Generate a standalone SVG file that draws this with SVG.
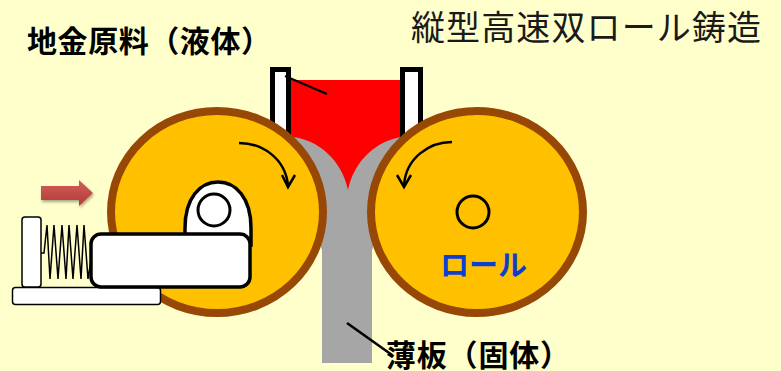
<svg xmlns="http://www.w3.org/2000/svg" width="781" height="371" viewBox="0 0 781 371">
  <defs>
    <style>
      .roll { fill: #FFC000; stroke: #984806; stroke-width: 8; }
      .wall { fill: #FFFFFF; stroke: #000000; stroke-width: 5; }
      .line { fill: none; stroke: #000000; stroke-width: 2.5; }
      .thin { fill: #FFFFFF; stroke: #000000; stroke-width: 1.5; }
      .part { fill: #FFFFFF; stroke: #000000; stroke-width: 3.5; }
      .label { font-family: "Noto Sans CJK JP", "Noto Sans", sans-serif; font-weight: bold; font-size: 30px; fill: #000000; }
      .title { font-family: "Noto Sans CJK JP", "Noto Sans", sans-serif; font-size: 34px; fill: #1A1A1A; }
    </style>
    <linearGradient id="arrowFill" x1="0" y1="0" x2="0" y2="1">
      <stop offset="0" stop-color="#D2605C"/>
      <stop offset="1" stop-color="#B23A36"/>
    </linearGradient>
    <filter id="softShadow" x="-20%" y="-30%" width="140%" height="160%">
      <feGaussianBlur in="SourceAlpha" stdDeviation="1.5"/>
      <feOffset dx="1" dy="2" result="blur"/>
      <feComponentTransfer><feFuncA type="linear" slope="0.35"/></feComponentTransfer>
      <feMerge><feMergeNode/><feMergeNode in="SourceGraphic"/></feMerge>
    </filter>
  </defs>

  <!-- background -->
  <rect x="0" y="0" width="781" height="371" fill="#FFFFCC"/>

  <!-- molten metal pool -->
  <g id="melt">
    <rect x="290" y="80" width="112" height="115" fill="#FF0000"/>
  </g>

  <!-- solidified shell and strip -->
  <g id="strip">
    <path d="M280,140 L293,137 C318,140 342,160 348,190 C354,160 378,140 402,137 L415,145 L380,230 L372,250 L372,363 L322,363 L322,250 L314,230 Z" fill="#A6A6A6"/>
  </g>

  <!-- side dam walls -->
  <g id="wall-left">
    <rect class="wall" x="272.5" y="69.5" width="16" height="110"/>
  </g>
  <g id="wall-right">
    <rect class="wall" x="402.5" y="69.5" width="18" height="110"/>
  </g>

  <!-- rolls -->
  <g id="roll-left">
    <ellipse class="roll" cx="217" cy="212" rx="106" ry="101"/>
    <path class="part" d="M185,245 L185,228 C185,198 200,182 218,182 C236,182 251,198 251,228 L251,245 Z"/>
    <circle cx="214" cy="210" r="16" fill="#FFFFFF" stroke="#000000" stroke-width="3"/>
  </g>
  <g id="roll-right">
    <ellipse class="roll" cx="477" cy="212" rx="106" ry="101"/>
    <circle cx="473" cy="212" r="16" fill="none" stroke="#000000" stroke-width="3"/>
    <text x="440" y="276" font-family="'Noto Sans CJK JP', 'Noto Sans', sans-serif" font-weight="bold" font-size="29" fill="#0B3FD0">ロール</text>
  </g>

  <!-- spring loading unit -->
  <g id="spring-unit">
    <rect class="thin" x="12.5" y="287.5" width="148" height="17" rx="3"/>
    <rect class="thin" x="22" y="217" width="19" height="70" rx="3"/>
    <path fill="none" stroke="#000000" stroke-width="1.5" d="M41,253 L44,253 L47,225 L50,279 L54,225 L58,279 L62,225 L66,279 L69,225 L73,279 L77,225 L81,279 L84,225 L88,279 L92,253"/>
    <rect class="part" x="91" y="234" width="159" height="53" rx="10"/>
  </g>

  <!-- load direction arrow -->
  <g id="load-arrow" filter="url(#softShadow)">
    <path d="M41,186 L79,186 L79,180 L93,193 L79,206 L79,200 L41,200 Z" fill="url(#arrowFill)"/>
  </g>

  <!-- connectors: rotation arrows and leader lines -->
  <g id="connectors">
    <path class="line" d="M239,143 C262,143 285,158 288,185"/>
    <path class="line" d="M282,175 L288,187 L295,175"/>
    <path class="line" d="M452,142 C429,142 406,158 404,185"/>
    <path class="line" d="M397,175 L404,187 L411,175"/>
    <line x1="285" y1="76" x2="327" y2="94" stroke="#000000" stroke-width="2"/>
    <line x1="347" y1="323" x2="392" y2="355" stroke="#000000" stroke-width="2.5"/>
  </g>

  <!-- labels -->
  <g id="labels">
    <text class="label" x="27" y="52" textLength="244" lengthAdjust="spacing">地金原料（液体）</text>
    <text class="title" x="411" y="40" textLength="350" lengthAdjust="spacing">縦型高速双ロール鋳造</text>
    <text class="label" x="386" y="366" textLength="184" lengthAdjust="spacing">薄板（固体）</text>
  </g>
</svg>
